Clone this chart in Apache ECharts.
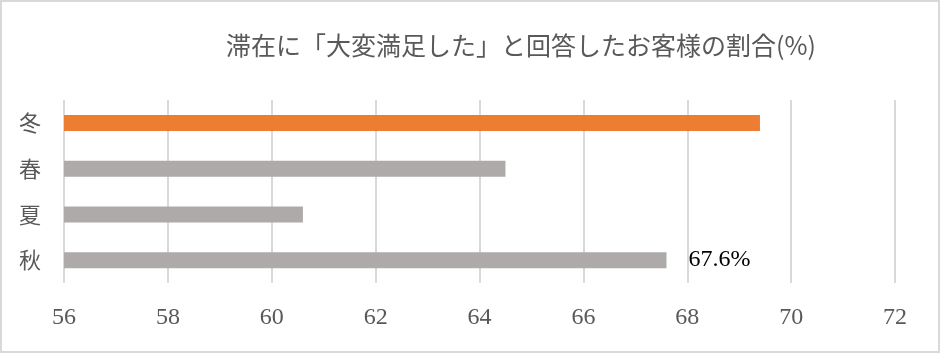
<!DOCTYPE html>
<html>
<head>
<meta charset="utf-8">
<script src="https://cdn.jsdelivr.net/npm/echarts@6/dist/echarts.min.js"></script>
<style>
  html, body { margin: 0; padding: 0; background: #fff; }
  #main { width: 940px; height: 353px; }
</style>
</head>
<body>
<div id="main"></div>
<script>
var myChart = echarts.init(document.getElementById('main'));

// 季節（上から）
var seasons = ['冬', '春', '夏', '秋'];
// 「大変満足した」割合(%)
var values = [69.4, 64.5, 60.6, 67.6];
// ラベルを出す季節
var labeled = ['秋'];
var barColors = ['#ED7D31', '#AEAAAA', '#AEAAAA', '#AEAAAA'];

var serif = '"Liberation Serif", "DejaVu Serif", "Noto Sans CJK JP", serif';

const option = {
  animation: false,
  title: {
    text: '滞在に「大変満足した」と回答したお客様の割合(%)',
    left: 516,
    top: 28,
    textAlign: 'center',
    textStyle: {
      fontFamily: '"Noto Sans CJK JP", sans-serif',
      fontSize: 25,
      fontWeight: 'normal',
      color: '#595959'
    }
  },
  graphic: [{
    type: 'rect',
    shape: { x: 1, y: 1, width: 938, height: 351 },
    style: { fill: 'none', stroke: '#d9d9d9', lineWidth: 2 },
    silent: true
  }],
  grid: {
    left: 64,
    right: 45,
    top: 100,
    bottom: 70
  },
  xAxis: {
    type: 'value',
    min: 56,
    max: 72,
    interval: 2,
    axisLine: { show: false },
    axisTick: { show: false },
    splitLine: { lineStyle: { color: '#d9d9d9', width: 2 } },
    axisLabel: {
      margin: 23,
      fontFamily: serif,
      fontSize: 24,
      color: '#595959'
    }
  },
  yAxis: {
    type: 'category',
    data: seasons,
    inverse: true,
    axisLine: { show: false },
    axisTick: { show: false },
    axisLabel: {
      margin: 23,
      fontFamily: '"Noto Sans CJK JP", sans-serif',
      fontSize: 22,
      color: '#595959'
    }
  },
  series: [{
    type: 'bar',
    barWidth: 16,
    data: values.map(function (v, i) {
      return {
        value: v,
        itemStyle: { color: barColors[i] },
        label: {
          show: labeled.indexOf(seasons[i]) >= 0,
          position: 'right',
          distance: 22,
          formatter: function (p) { return p.value.toFixed(1) + '%'; },
          fontFamily: serif,
          fontSize: 24,
          color: '#000'
        }
      };
    })
  }]
};
myChart.setOption(option);
</script>
</body>
</html>
